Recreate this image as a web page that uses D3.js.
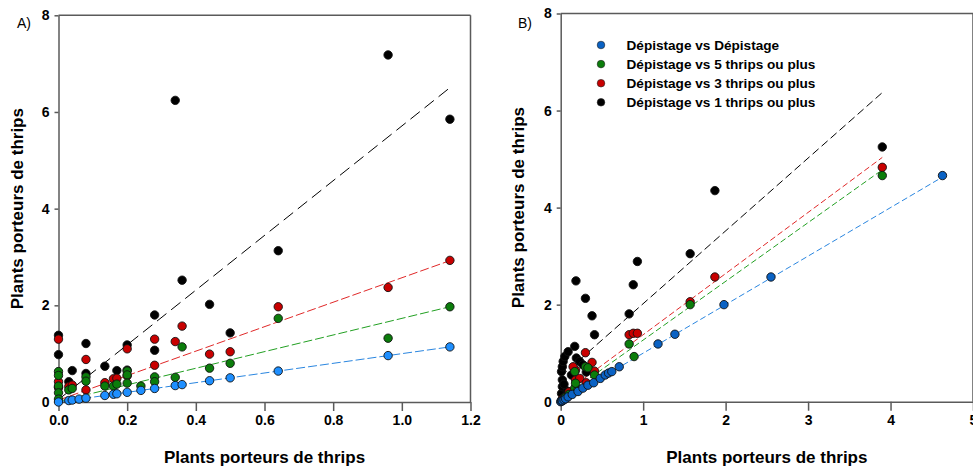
<!DOCTYPE html>
<html><head><meta charset="utf-8">
<script src="https://cdn.jsdelivr.net/npm/d3@7"></script>
<style>
html,body{margin:0;padding:0;background:#fff;}
svg{display:block;font-family:"Liberation Sans",Arial,sans-serif;}
</style></head>
<body>
<svg id="chart" width="973" height="468"></svg>
<script>
// ---------- data ----------
const seriesNames = ["Dépistage vs Dépistage","Dépistage vs 5 thrips ou plus","Dépistage vs 3 thrips ou plus","Dépistage vs 1 thrips ou plus"];
const axisTitle = "Plants porteurs de thrips";
const panelLabels = ["A)","B)"];
const aXTicks = [0,0.2,0.4,0.6,0.8,1.0,1.2];
const bXTicks = [0,1,2,3,4,5];
const yTicks = [0,2,4,6,8];

// Panel A points [x, y]
const aBlue = [[0,0],[0.03,0.03],[0.04,0.04],[0.06,0.06],[0.08,0.08],[0.135,0.135],[0.16,0.16],[0.17,0.17],[0.2,0.2],[0.24,0.24],[0.28,0.28],[0.34,0.34],[0.36,0.36],[0.44,0.44],[0.5,0.5],[0.64,0.64],[0.96,0.96],[1.14,1.14]];
const aGreen = [[0,0.63],[0,0.55],[0,0.33],[0,0.19],[0,0.06],[0.03,0.25],[0.04,0.28],[0.08,0.52],[0.08,0.43],[0.135,0.33],[0.16,0.33],[0.17,0.37],[0.2,0.64],[0.2,0.56],[0.2,0.39],[0.24,0.33],[0.28,0.52],[0.28,0.42],[0.34,0.51],[0.36,1.14],[0.44,0.70],[0.5,0.80],[0.64,1.73],[0.96,1.32],[1.14,1.97]];
const aRed = [[0,1.30],[0,0.42],[0,0.31],[0.03,0.32],[0.04,0.35],[0.08,0.88],[0.08,0.25],[0.135,0.40],[0.16,0.48],[0.17,0.49],[0.2,1.10],[0.2,0.54],[0.28,1.30],[0.28,0.76],[0.34,1.25],[0.36,1.57],[0.44,0.99],[0.5,1.04],[0.64,1.97],[0.96,2.37],[1.14,2.93]];
const aBlack = [[0,1.38],[0,0.98],[0,0.30],[0.03,0.42],[0.04,0.65],[0.08,1.21],[0.08,0.59],[0.135,0.74],[0.17,0.65],[0.2,1.18],[0.2,0.66],[0.28,1.80],[0.28,1.07],[0.34,6.24],[0.36,2.52],[0.44,2.02],[0.5,1.43],[0.64,3.13],[0.96,7.18],[1.14,5.85]];

// Panel B points [x, y]
const bBlue = [[0,0],[0.01,0.01],[0.02,0.02],[0.04,0.04],[0.06,0.06],[0.09,0.1],[0.14,0.15],[0.21,0.21],[0.27,0.28],[0.33,0.34],[0.40,0.39],[0.48,0.48],[0.54,0.55],[0.58,0.59],[0.62,0.62],[0.71,0.72],[1.18,1.19],[1.385,1.39],[1.98,2.0],[2.55,2.57],[4.63,4.66]];
const bGreen = [[0.02,0.03],[0.05,0.08],[0.1,0.15],[0.17,0.28],[0.21,0.24],[0.18,0.38],[0.17,0.62],[0.30,0.72],[0.33,0.70],[0.41,0.55],[0.83,1.19],[0.89,0.93],[1.57,2.0],[3.9,4.66]];
const bRed = [[0.02,0.05],[0.06,0.1],[0.1,0.2],[0.18,0.45],[0.18,0.65],[0.15,0.72],[0.23,0.48],[0.30,1.01],[0.31,0.39],[0.38,0.81],[0.41,0.63],[0.83,1.38],[0.88,1.41],[0.93,1.41],[1.57,2.06],[1.87,2.57],[3.9,4.83]];
const bBlack = [[0.01,0.03],[0.01,0.17],[0.02,0.31],[0.02,0.45],[0.01,0.62],[0.02,0.72],[0.03,0.83],[0.05,0.93],[0.09,1.03],[0.17,1.14],[0.05,0.10],[0.08,0.22],[0.04,0.36],[0.13,0.55],[0.19,0.90],[0.23,0.83],[0.27,0.76],[0.31,0.61],[0.185,2.49],[0.30,2.13],[0.38,1.77],[0.41,1.38],[0.83,1.81],[0.88,2.41],[0.93,2.89],[1.57,3.05],[1.87,4.35],[3.9,5.25]];

// Fitted lines (blue, green, red, black): intercept, slope, x-extent
const aIntercepts = [0, 0.01, 0.04, 0.05];
const aSlopes = [1.0, 1.72, 2.53, 5.66];
const aFitMaxX = [1.14, 1.14, 1.14, 1.14];
const bIntercepts = [0, 0.06, 0.12, 0.52];
const bSlopes = [1.0, 1.21, 1.26, 1.50];
const bFitMaxX = [4.63, 3.9, 3.9, 3.9];

// ---------- styles ----------
const aPointColors = ["#1e8fff","#0b7d0b","#c80000","#000000"];
const bPointColors = ["#0a62c4","#0b7d0b","#c80000","#000000"];
const lineColors = ["#2a86e0","#22a022","#e02828","#000000"];
const FONT = '"Liberation Sans",Arial,sans-serif';

const svg = d3.select("#chart");

function panel(cfg){
  const x = d3.scaleLinear().domain(cfg.xDomain).range(cfg.xRange);
  const y = d3.scaleLinear().domain([0,8]).range(cfg.yRange);
  const g = svg.append("g");
  const axisColor = "#5a5a5a";

  // frame top & right
  g.append("line").attr("x1",x.range()[0]).attr("x2",x.range()[1]).attr("y1",y(8)).attr("y2",y(8))
    .attr("stroke",axisColor).attr("stroke-width",1.5);
  g.append("line").attr("x1",x.range()[1]).attr("x2",x.range()[1]).attr("y1",y(8)).attr("y2",y(0))
    .attr("stroke",axisColor).attr("stroke-width",1.5);

  const xa = g.append("g").attr("transform",`translate(0,${y(0)})`)
    .call(d3.axisBottom(x).tickValues(cfg.xTicks).tickFormat(cfg.xFormat).tickSize(9).tickSizeOuter(0).tickPadding(4));
  const ya = g.append("g").attr("transform",`translate(${x(0)},0)`)
    .call(d3.axisLeft(y).tickValues(yTicks).tickFormat(d3.format("d")).tickSize(4).tickSizeOuter(0).tickPadding(5));
  [xa,ya].forEach(a=>{
    a.select(".domain").attr("stroke",axisColor).attr("stroke-width",1.5);
    a.selectAll(".tick line").attr("stroke",axisColor).attr("stroke-width",1.5);
    a.selectAll(".tick text").attr("fill","#000").style("font-family",FONT).style("font-size","14px").style("font-weight","bold");
  });

  // fitted lines
  const order = [3,2,1,0];
  order.forEach(i=>{
    g.append("line")
      .attr("x1",x(0)).attr("y1",y(cfg.intercepts[i]))
      .attr("x2",x(cfg.fitMax[i])).attr("y2",y(cfg.intercepts[i]+cfg.slopes[i]*cfg.fitMax[i]))
      .attr("stroke",lineColors[i]).attr("stroke-width",1)
      .attr("stroke-dasharray", i===3 ? cfg.blackDash : cfg.colDash);
  });

  // points (black, red, green, blue)
  order.forEach(i=>{
    g.append("g").selectAll("circle").data(cfg.series[i]).join("circle")
      .attr("cx",d=>x(d[0])).attr("cy",d=>y(d[1])).attr("r",4.2)
      .attr("fill",cfg.colors[i]).attr("stroke","#111").attr("stroke-width",0.9);
  });

  // titles
  g.append("text").attr("x",(x.range()[0]+x.range()[1])/2).attr("y",463)
    .attr("text-anchor","middle").style("font-family",FONT).style("font-size","17px").style("font-weight","bold")
    .text(axisTitle);
  g.append("text").attr("transform",`translate(${cfg.yTitleX},${(y(0)+y(8))/2}) rotate(-90)`)
    .attr("text-anchor","middle").style("font-family",FONT).style("font-size","17px").style("font-weight","bold")
    .text(axisTitle);
  g.append("text").attr("x",cfg.labelX).attr("y",28).style("font-family",FONT).style("font-size","14px")
    .text(cfg.label);
  return {x,y,g};
}

panel({xDomain:[0,1.2], xRange:[58.5,470.5], yRange:[402,15.3], xTicks:aXTicks, xFormat:d3.format(".1f"),
  series:[aBlue,aGreen,aRed,aBlack], colors:aPointColors, intercepts:aIntercepts, slopes:aSlopes, fitMax:aFitMaxX,
  blackDash:"12,6", colDash:"9,3", yTitleX:23, labelX:17, label:panelLabels[0]});

const pB = panel({xDomain:[0,5], xRange:[560.7,973], yRange:[401.7,13.5], xTicks:bXTicks, xFormat:d3.format("d"),
  series:[bBlue,bGreen,bRed,bBlack], colors:bPointColors, intercepts:bIntercepts, slopes:bSlopes, fitMax:bFitMaxX,
  blackDash:"8,4", colDash:"6,3", yTitleX:524, labelX:518, label:panelLabels[1]});

// legend
const leg = svg.append("g").attr("transform","translate(601,45)");
seriesNames.forEach((name,i)=>{
  const row = leg.append("g").attr("transform",`translate(0,${i*19.1})`);
  row.append("circle").attr("r",3.8).attr("fill",bPointColors[i]).attr("stroke","#222").attr("stroke-width",0.6);
  row.append("text").attr("x",25.5).attr("y",5).style("font-family",FONT).style("font-size","13.6px").style("font-weight","bold").text(name);
});
</script>
</body></html>
